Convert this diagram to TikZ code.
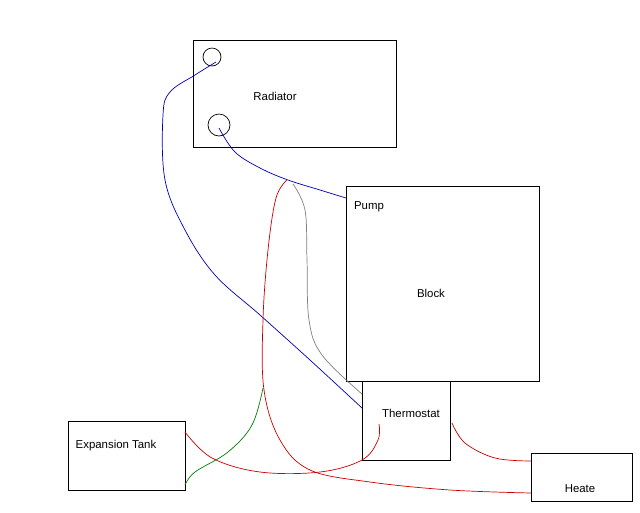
\documentclass[tikz,border=0pt]{standalone}
\usepackage{fontspec}
\setmainfont{Liberation Sans}
\begin{document}
\begin{tikzpicture}[x=0.02cm,y=-0.02cm,
  box/.style={draw,thin},
  lbl/.style={font=\fontsize{6.5}{8}\selectfont,inner sep=0},
  pipe/.style={thin}]
\useasboundingbox (0,0) rectangle (640,512);
\fill[white] (0,0) rectangle (640,512);
\node[box,minimum width=203*0.02cm,minimum height=107*0.02cm,anchor=north west] (rad) at (193,40) {};
\node[lbl] (radt) at (275,96) {Radiator};
\node[draw,circle,minimum size=18*0.02cm,inner sep=0] (c1) at (212,57) {};
\node[draw,circle,minimum size=22*0.02cm,inner sep=0] (c2) at (219,125) {};
\node[box,minimum width=193*0.02cm,minimum height=195*0.02cm,anchor=north west] (blk) at (346,186) {};
\node[lbl] (pump) at (369,207) {Pump};
\node[lbl] (blkt) at (431,293) {Block};
\node[box,minimum width=88*0.02cm,minimum height=79*0.02cm,anchor=north west] (th) at (362,381) {};
\node[lbl] (tht) at (411,413) {Thermostat};
\node[box,minimum width=117*0.02cm,minimum height=69*0.02cm,anchor=north west] (exp) at (68,421) {};
\node[lbl] (expt) at (116,446) {Expansion Tank};
\node[box,minimum width=101*0.02cm,minimum height=48*0.02cm,anchor=north west] (ht) at (531,453) {};
\node[lbl] (htt) at (580,489) {Heate};
% blue pipes
\draw[pipe,blue!70!black] plot[smooth,tension=0.6] coordinates {(219,128) (235,152) (260,168) (288,180) (320,190) (346,198)};
\draw[pipe,blue!70!black] plot[smooth,tension=0.6] coordinates {(216,62) (195,75) (170,92) (163,115) (165,180) (185,230) (215,275) (260,315) (310,360) (362,408)};
% gray pipe
\draw[pipe,gray] plot[smooth,tension=0.6] coordinates {(293,184) (305,210) (307,260) (309,320) (322,355) (362,394)};
% red pipes
\draw[pipe,red!80!black] plot[smooth,tension=0.6] coordinates {(287,180) (276,198) (268,250) (263,320) (264,390) (280,440) (310,470) (370,482) (450,490) (531,493)};
\draw[pipe,red!80!black] plot[smooth,tension=0.6] coordinates {(185,432) (212,458) (260,472) (320,472) (362,460) (378,440) (379,424)};
\draw[pipe,red!80!black] plot[smooth,tension=0.6] coordinates {(452,423) (465,443) (495,458) (531,461)};
% green pipe
\draw[pipe,green!50!black] plot[smooth,tension=0.6] coordinates {(185,485) (195,472) (228,452) (252,425) (263,388)};
\end{tikzpicture}
\end{document}
